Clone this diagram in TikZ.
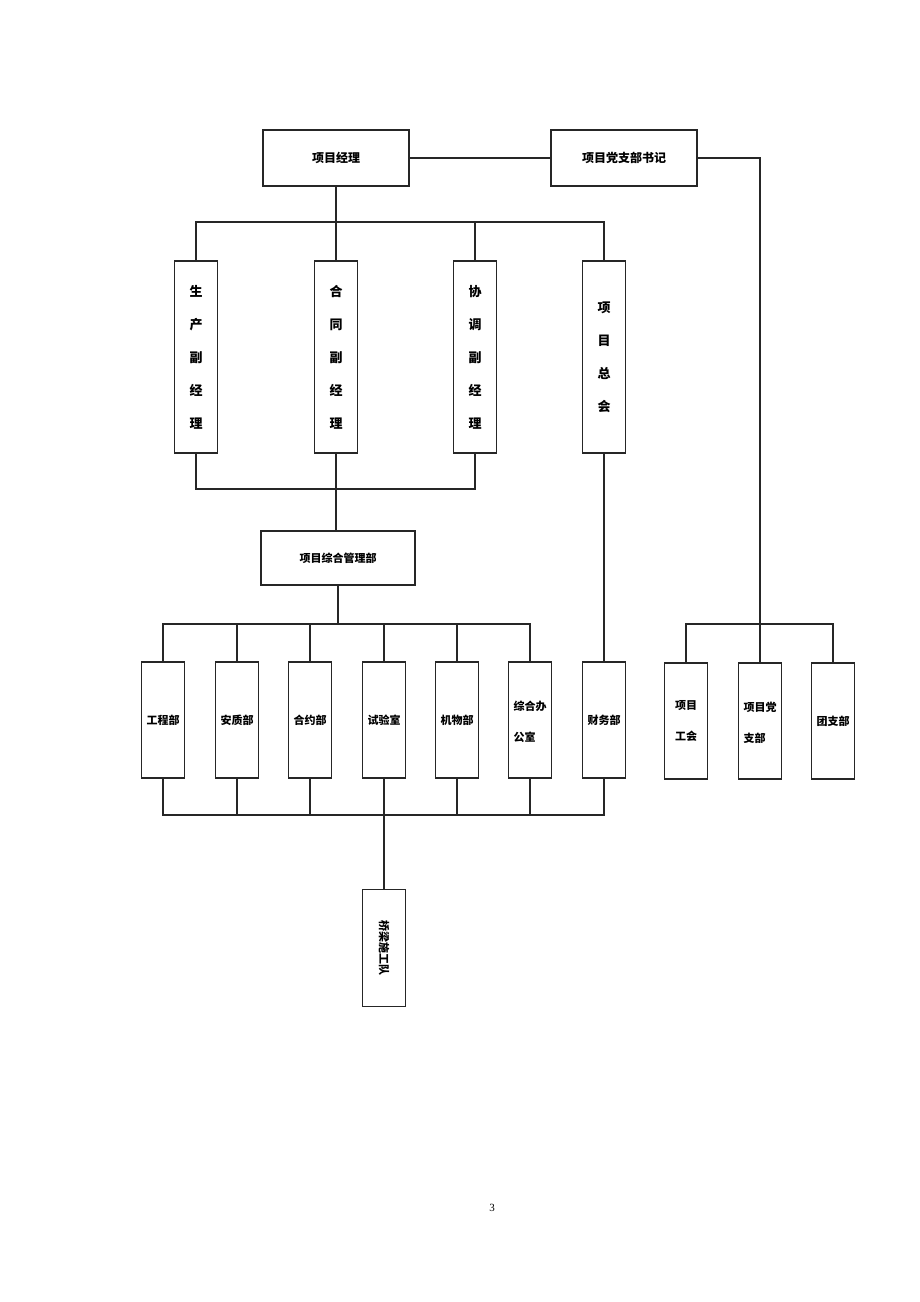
\documentclass[tikz,border=0pt]{standalone}
\usepackage{fontspec}
\newfontfamily\cjk{Noto Sans CJK SC}
\setmainfont{Liberation Serif}
\begin{document}
\begin{tikzpicture}[x=1pt,y=-1pt,
  line/.style={line width=1.5pt, draw=black!85},
  box/.style={draw=black!85, line width=1.5pt, inner sep=0pt, align=center, fill=white},
  hbox/.style={box, minimum width=146pt, minimum height=56pt, font=\cjk\bfseries\fontsize{12}{14}\selectfont},
  vbox/.style={box, minimum width=43pt, minimum height=192pt, font=\cjk\bfseries\fontsize{13}{33}\selectfont},
  dbox/.style={box, minimum width=43pt, minimum height=116pt, font=\cjk\bfseries\fontsize{11}{31}\selectfont}]
\useasboundingbox (0,0) rectangle (920,1302);
\fill[white] (0,0) rectangle (920,1302);
% top
\node[hbox] (pm) at (336,158) {项目经理};
\node[hbox] (ps) at (624,158) {项目党支部书记};
% deputies
\node[vbox] (sc) at (196,357) {生\\产\\副\\经\\理};
\node[vbox] (ht) at (336,357) {合\\同\\副\\经\\理};
\node[vbox] (xt) at (475,357) {协\\调\\副\\经\\理};
\node[vbox] (zk) at (604,357) {项\\目\\总\\会};
% management
\node[hbox, minimum width=154pt, minimum height=54pt, font=\cjk\bfseries\fontsize{11}{14}\selectfont] (zh) at (338,558) {项目综合管理部};
% departments
\node[dbox] (gc) at (163,720) {工程部};
\node[dbox] (az) at (237,720) {安质部};
\node[dbox] (hy) at (310,720) {合约部};
\node[dbox] (sy) at (384,720) {试验室};
\node[dbox] (jw) at (457,720) {机物部};
\node[dbox] (zb) at (530,720) {\begin{tabular}{@{}l@{}}综合办\\公室\end{tabular}};
\node[dbox] (cw) at (604,720) {财务部};
% party
\node[dbox] (gh) at (686,721) {项目\\工会};
\node[dbox] (dz) at (760,721) {\begin{tabular}{@{}l@{}}项目党\\支部\end{tabular}};
\node[dbox] (tz) at (833,721) {团支部};
% team
\node[box, minimum width=43pt, minimum height=117pt] (ql) at (384,948) {\rotatebox{-90}{\cjk\bfseries\fontsize{11}{14}\selectfont 桥梁施工队}};
% page number
\node[font=\fontsize{11}{13}\selectfont] (pg) at (492,1208) {3};
% connectors
\coordinate (t1) at (336,222);
\coordinate (t2) at (336,489);
\coordinate (t3) at (338,624);
\coordinate (t4) at (384,815);
\coordinate (r1) at (760,624);
\draw[line] (pm.east) -- (ps.west);
\draw[line] (ps.east) -| (r1);
\draw[line] (pm.south) -- (t1);
\draw[line] (sc.north) -- (sc.north |- t1) -- (zk.north |- t1) -- (zk.north);
\draw[line] (ht.north) -- (ht.north |- t1);
\draw[line] (xt.north) -- (xt.north |- t1);
\draw[line] (sc.south) -- (sc.south |- t2) -- (xt.south |- t2) -- (xt.south);
\draw[line] (ht.south) -- (ht.south |- t2) -- (zh.north -| ht.south);
\draw[line] (zh.south) -- (t3);
\draw[line] (gc.north) -- (gc.north |- t3) -- (zb.north |- t3) -- (zb.north);
\foreach \n in {az,hy,sy,jw} \draw[line] (\n.north) -- (\n.north |- t3);
\draw[line] (zk.south) -- (cw.north);
\draw[line] (gc.south) -- (gc.south |- t4) -- (cw.south |- t4) -- (cw.south);
\foreach \n in {az,hy,sy,jw,zb} \draw[line] (\n.south) -- (\n.south |- t4);
\draw[line] (t4) -- (ql.north);
\draw[line] (gh.north) -- (gh.north |- r1) -- (tz.north |- r1) -- (tz.north);
\draw[line] (r1) -- (dz.north);
\end{tikzpicture}
\end{document}
